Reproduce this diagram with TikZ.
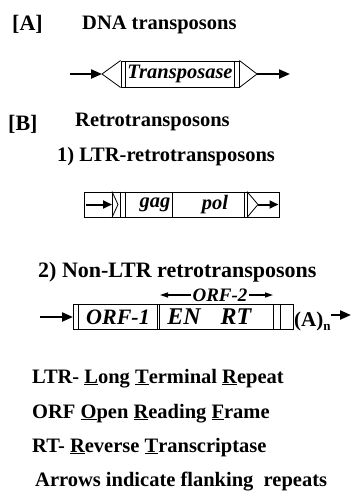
\documentclass[tikz,border=0pt]{standalone}
\usepackage{fontspec}
\setmainfont{Liberation Serif}
\usetikzlibrary{arrows.meta}
\begin{document}
\begin{tikzpicture}[x=1pt,y=-1pt,
  head/.style={font=\fontsize{20.5}{24}\selectfont\bfseries, inner sep=0, anchor=base west},
  big/.style={font=\fontsize{22}{26}\selectfont\bfseries, inner sep=0, anchor=base west},
  gene/.style={font=\fontsize{20.5}{24}\selectfont\bfseries\itshape, inner sep=0},
  frame/.style={draw, line width=0.9pt, inner sep=0},
  seg/.style={line width=0.8pt},
  flank/.style={line width=2.2pt, -{Triangle[length=11pt,width=9pt]}},
  flanksm/.style={line width=2pt, -{Triangle[length=9pt,width=8pt]}},
  orf/.style={line width=1.2pt, -{Triangle[length=8pt,width=5pt]}},
]
\useasboundingbox (0,0) rectangle (361,491);

% ---------- [A] DNA transposons ----------
\node[big] (labA) at (12,30) {[A]};
\node[head] (titA) at (82,29) {DNA transposons};

\node[frame, gene, minimum width=118pt, minimum height=26pt] (tp) at (180,74) {Transposase};
\draw[seg] ([xshift=5pt]tp.north west) -- ([xshift=5pt]tp.south west);
\draw[seg] ([xshift=-5pt]tp.north east) -- ([xshift=-5pt]tp.south east);
\coordinate (tpL) at (102,74);
\coordinate (tpR) at (257,74);
\draw[seg] (tp.north west) -- (tpL) -- (tp.south west);
\draw[seg] (tp.north east) -- (tpR) -- (tp.south east);
\coordinate (tpA) at (70,74);
\coordinate (tpB) at (290,74);
\draw[flank] (tpA) -- (tpL);
\draw[flank] (tpR) -- (tpB);

% ---------- [B] Retrotransposons ----------
\node[big] (labB) at (8,130) {[B]};
\node[head] (titB) at (75,126) {Retrotransposons};

% 1) LTR element
\node[head] (titB1) at (57,161) {1) LTR-retrotransposons};
\node[frame, minimum width=195pt, minimum height=25pt] (ltr) at (181.5,204.5) {};
\foreach \x in {112,120,125,172,244,247}
  \draw[seg] (\x,0 |- ltr.north) -- (\x,0 |- ltr.south);
\draw[seg] (112,0 |- ltr.north) -- (118,204.5) -- (112,0 |- ltr.south);
\draw[seg] (247,0 |- ltr.north) -- (258,204.5) -- (247,0 |- ltr.south);
\node[gene] (gag) at (155,204.5) {gag};
\node[gene] (pol) at (215,204.5) {pol};
\coordinate (ltrA) at (86,204.5);
\coordinate (ltrAt) at (112,204.5);
\coordinate (ltrB) at (258,204.5);
\coordinate (ltrBt) at (278.5,204.5);
\draw[flanksm] (ltrA) -- (ltrAt);
\draw[flanksm] (ltrB) -- (ltrBt);

% 2) Non-LTR element
\node[head, font=\fontsize{22}{26}\selectfont\bfseries] (titB2) at (38,277) {2) Non-LTR retrotransposons};
\node[frame, minimum width=220pt, minimum height=25pt] (nl) at (183,317) {};
\foreach \x in {78,157,159.5,273,280}
  \draw[seg] (\x,0 |- nl.north) -- (\x,0 |- nl.south);
\node[gene, font=\fontsize{22}{26}\selectfont\bfseries\itshape] (orf1) at (118,317) {ORF-1};
\node[gene, font=\fontsize{24}{28}\selectfont\bfseries\itshape] (en) at (184,317) {EN};
\node[gene, font=\fontsize{24}{28}\selectfont\bfseries\itshape] (rt) at (236,317) {RT};
\node[gene, font=\fontsize{19}{22}\selectfont\bfseries\itshape] (orf2) at (220,295) {ORF-2};
\coordinate (o2L) at (160,295);
\coordinate (o2R) at (273,295);
\draw[orf] ([xshift=-1pt]orf2.west) -- (o2L);
\draw[orf] ([xshift=1pt]orf2.east) -- (o2R);
\node[font=\fontsize{21}{24}\selectfont\bfseries, inner sep=0, anchor=base west] (polyA) at (294,326)
  {(A)\raisebox{-4pt}{\fontsize{13}{13}\selectfont n}};
\coordinate (nlA) at (40,317);
\coordinate (nlAt) at (73,317);
\coordinate (nlB) at (351,315);
\draw[flank] (nlA) -- (nlAt);
\draw[flank] (polyA.east |- nlB) -- (nlB);

% ---------- key ----------
\node[head] (k1) at (32,383) {LTR- \underline{L}ong \underline{T}erminal \underline{R}epeat};
\node[head] (k2) at (32,418) {ORF \underline{O}pen \underline{R}eading \underline{F}rame};
\node[head] (k3) at (32,452) {RT- \underline{R}everse \underline{T}ranscriptase};
\node[head] (k4) at (35,486) {Arrows indicate flanking\ \ repeats};
\end{tikzpicture}
\end{document}
